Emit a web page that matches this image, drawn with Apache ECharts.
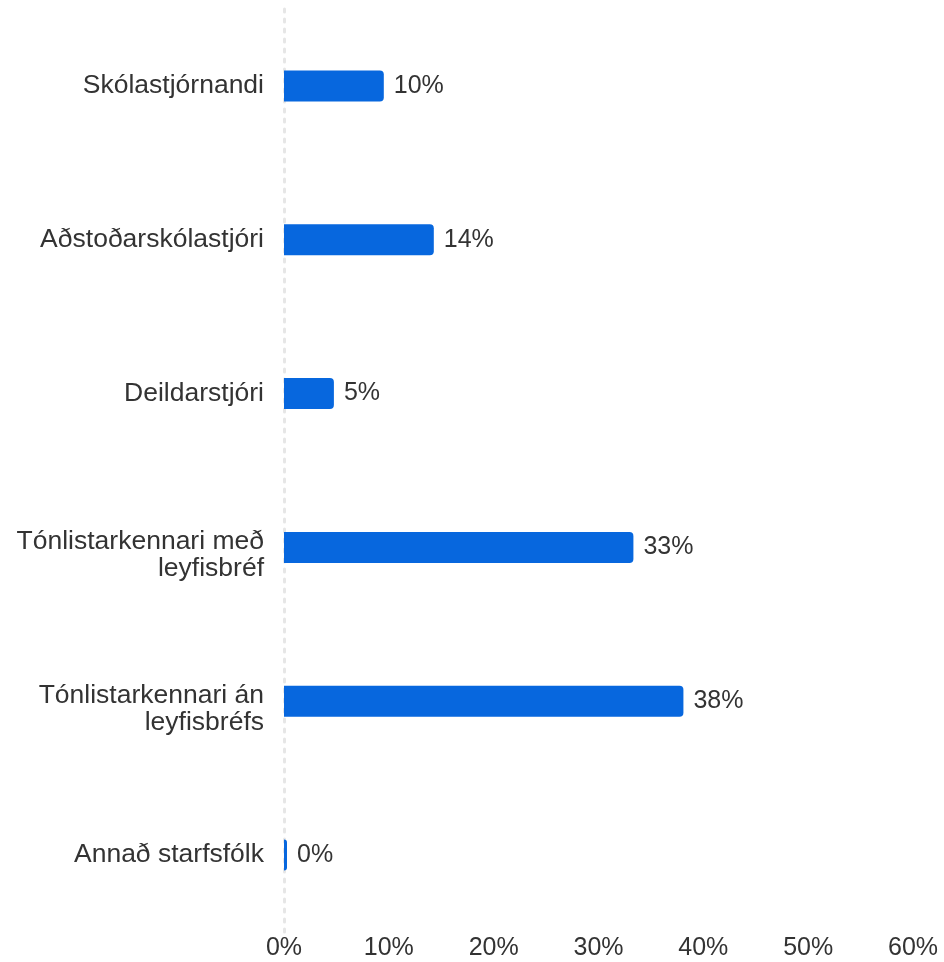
<!DOCTYPE html>
<html>
<head>
<meta charset="utf-8">
<script src="https://cdn.jsdelivr.net/npm/echarts@6/dist/echarts.min.js"></script>
<style>html,body{margin:0;padding:0;background:#fff}#c{width:944px;height:962px}</style>
</head>
<body>
<div id="c"></div>
<script>
const categories = [
  'Skólastjórnandi',
  'Aðstoðarskólastjóri',
  'Deildarstjóri',
  'Tónlistarkennari með\nleyfisbréf',
  'Tónlistarkennari án\nleyfisbréfs',
  'Annað starfsfólk'
];
const values = [9.52, 14.29, 4.76, 33.33, 38.10, 0];
const tickValues = [0, 10, 20, 30, 40, 50, 60];

const chart = echarts.init(document.getElementById('c'));
const font = '"Liberation Sans", Arial, sans-serif';
chart.setOption({
  animation: false,
  grid: { left: 284, width: 629, top: 9, height: 923, containLabel: false },
  xAxis: {
    type: 'value', min: tickValues[0], max: tickValues[tickValues.length - 1], interval: 10,
    axisLine: { show: false }, axisTick: { show: false }, splitLine: { show: false },
    axisLabel: { formatter: v => v + '%', color: '#333', fontSize: 25, fontFamily: font, margin: 4 }
  },
  yAxis: {
    type: 'category', inverse: true, data: categories,
    axisLine: { show: true, lineStyle: { color: '#e6e6e6', width: 3, type: [3, 7] } },
    axisTick: { show: false },
    axisLabel: {
      color: '#333', fontSize: 26.5, fontFamily: font, margin: 20, lineHeight: 27, align: 'right',
      formatter: v => v.indexOf('\n') >= 0
        ? '{sp| }\n' + v.split('\n').map(s => '{a|' + s + '}').join('\n')
        : v,
      rich: {
        a: { color: '#333', fontSize: 26.5, fontFamily: font, lineHeight: 27, align: 'right' },
        sp: { fontSize: 1, lineHeight: 16 }
      }
    }
  },
  series: [{
    type: 'bar', data: values, barWidth: 31, barMinHeight: 3,
    itemStyle: { color: '#0767de', borderRadius: [0, 4, 4, 0] },
    label: { show: true, position: 'right', distance: 10, formatter: p => Math.round(p.value) + '%',
      color: '#333', fontSize: 25, fontFamily: font }
  }]
});
</script>
</body>
</html>
